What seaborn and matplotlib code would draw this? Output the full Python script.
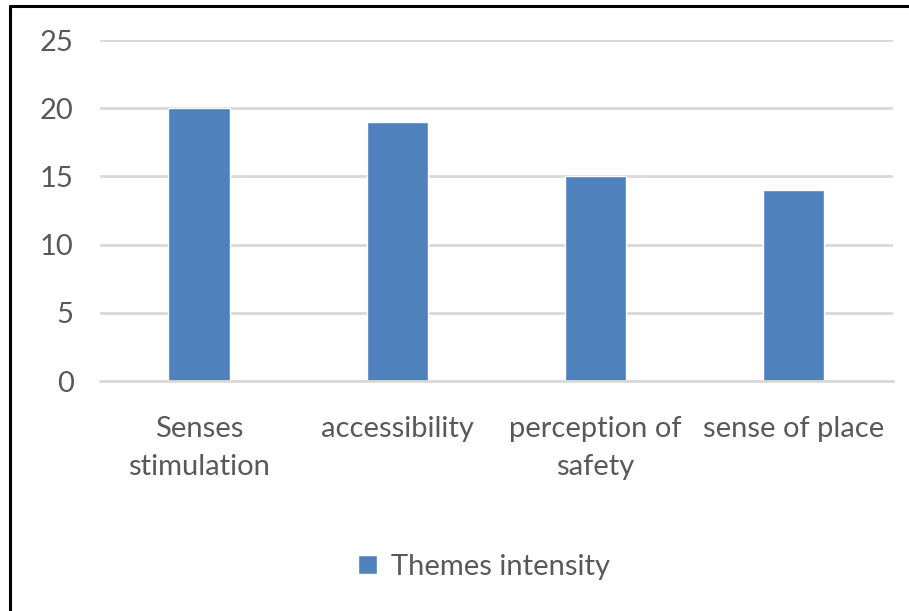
import matplotlib
matplotlib.use("Agg")
import matplotlib.pyplot as plt
import seaborn as sns
import pandas as pd
from matplotlib.lines import Line2D

# --- chart data ---
categories = ["Senses\nstimulation", "accessibility", "perception of\nsafety", "sense of place"]
values = [20, 19, 15, 14]
series_name = "Themes intensity"
y_ticks = [0, 5, 10, 15, 20, 25]

bar_color = "#4F81BD"
text_color = "#595959"
grid_color = "#D9D9D9"

sns.set_style("white")
plt.rcParams["font.family"] = ["Lato", "DejaVu Sans"]

df = pd.DataFrame({"theme": categories, "intensity": values})

fig = plt.figure(figsize=(9.09, 6.11), dpi=100)
ax = fig.add_axes([0.110, 0.3764, 0.872, 0.5581])

sns.barplot(data=df, x="theme", y="intensity", color=bar_color, width=0.31,
            saturation=1, label=series_name, ax=ax)

ax.set_ylim(0, 25)
ax.set_yticks(y_ticks)
ax.set_xlabel("")
ax.set_ylabel("")
ax.yaxis.grid(True, color=grid_color, linewidth=2)
ax.set_axisbelow(True)
for side in ["left", "right", "top"]:
    ax.spines[side].set_visible(False)
ax.spines["bottom"].set_color(grid_color)
ax.spines["bottom"].set_linewidth(2)
ax.tick_params(axis="both", length=0, labelsize=21, colors=text_color)
ax.tick_params(axis="y", pad=19)
ax.tick_params(axis="x", pad=25)
for lbl in ax.get_xticklabels():
    lbl.set_linespacing(1.6)

handles, labels = ax.get_legend_handles_labels()
ax.legend(handles, labels, loc="center", bbox_to_anchor=(484 / 909, 1 - 567 / 611),
          bbox_transform=fig.transFigure, frameon=False, fontsize=21,
          labelcolor=text_color, handlelength=0.65, handleheight=0.65,
          handletextpad=0.45)

# frame edges of the cropped chart area (top and left)
fig.add_artist(Line2D([10 / 909, 10 / 909], [0, 1 - 6 / 611], transform=fig.transFigure,
                      color="black", linewidth=2.2))
fig.add_artist(Line2D([10 / 909, 1], [1 - 6 / 611, 1 - 6 / 611], transform=fig.transFigure,
                      color="black", linewidth=2.2))

fig.savefig("out.png", dpi=100)
